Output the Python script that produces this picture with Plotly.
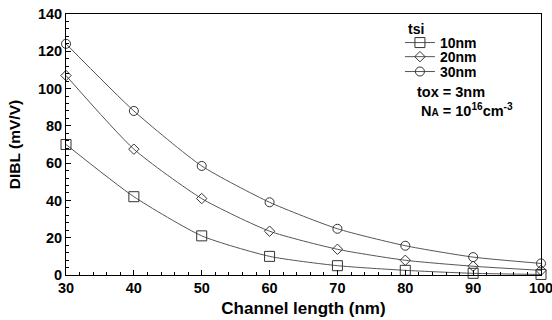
import plotly.graph_objects as go

channel_length = [30, 40, 50, 60, 70, 80, 90, 100]
dibl_10nm = [70, 42, 21, 10, 5, 2.5, 0.9, 0.3]
dibl_20nm = [107, 67.5, 41, 23.5, 13.8, 7.9, 4.7, 2.5]
dibl_30nm = [124, 88, 58.5, 39, 24.8, 15.7, 9.6, 6.2]
series_names = ["10nm", "20nm", "30nm"]
symbols = ["square-open", "diamond-open", "circle-open"]
sizes = [10, 8, 9]
legend_ids = ["legend", "legend2", "legend3"]
legend_y = [0.889, 0.835, 0.778]

FONT = "Liberation Sans, Arial, sans-serif"
fig = go.Figure()
for name, vals, sym, sz, lid in zip(series_names, [dibl_10nm, dibl_20nm, dibl_30nm], symbols, sizes, legend_ids):
    fig.add_trace(go.Scatter(
        x=channel_length, y=vals, name=name, mode="lines+markers",
        line=dict(color="#555555", width=1, shape="spline", smoothing=0.6),
        marker=dict(symbol=sym, size=sz, color="#333333", line=dict(width=1, color="#333333")),
        cliponaxis=False, legend=lid,
    ))

legend_common = dict(x=0.703, xanchor="left", yanchor="middle",
                     bgcolor="rgba(0,0,0,0)", borderwidth=0,
                     font=dict(size=14, weight="bold", family=FONT))

fig.update_layout(
    width=552, height=320,
    margin=dict(l=66, r=11, t=14, b=45, autoexpand=False),
    paper_bgcolor="white", plot_bgcolor="white",
    font=dict(family=FONT, size=13, color="black", weight="bold"),
    showlegend=True,
    legend=dict(y=legend_y[0], **legend_common),
    legend2=dict(y=legend_y[1], **legend_common),
    legend3=dict(y=legend_y[2], **legend_common),
    xaxis=dict(
        range=[30, 100], dtick=10, tick0=30, automargin=False,
        ticks="inside", ticklen=5, tickwidth=1, tickcolor="black",
        minor=dict(dtick=2, ticks="inside", ticklen=3, tickcolor="black"),
        showline=True, linecolor="black", linewidth=1, mirror=True,
        showgrid=False, zeroline=False, ticklabeloverflow="allow",
        tickfont=dict(size=14.5, weight="bold"),
        title=dict(text="Channel length (nm)", font=dict(size=17, weight="bold"), standoff=6),
    ),
    yaxis=dict(
        range=[0, 140], dtick=20, automargin=False,
        ticks="inside", ticklen=5, tickwidth=1, tickcolor="black",
        minor=dict(dtick=4, ticks="inside", ticklen=3, tickcolor="black"),
        showline=True, linecolor="black", linewidth=1, mirror=True,
        showgrid=False, zeroline=False, ticklabeloverflow="allow",
        tickfont=dict(size=14.5, weight="bold"),
        title=dict(text="DIBL (mV/V)", font=dict(size=15.5, weight="bold"), standoff=13),
    ),
)

fig.add_annotation(x=0.716, y=0.9425, xref="paper", yref="paper", xanchor="left", yanchor="middle",
                   text="tsi", showarrow=False, font=dict(size=14, weight="bold"))
fig.add_annotation(x=0.735, y=0.701, xref="paper", yref="paper", xanchor="left", yanchor="middle",
                   text="tox = 3nm", showarrow=False, font=dict(size=14.5, weight="bold"))
fig.add_annotation(x=0.743, y=0.632, xref="paper", yref="paper", xanchor="left", yanchor="middle",
                   text="N<span style='font-size:10px'>A</span> = 10<sup>16</sup>cm<sup>-3</sup>",
                   showarrow=False, font=dict(size=14.5, weight="bold"))

fig.write_html("out.html", config={"displayModeBar": False},
               post_script="document.body.style.margin='0';document.body.style.overflow='hidden';")
